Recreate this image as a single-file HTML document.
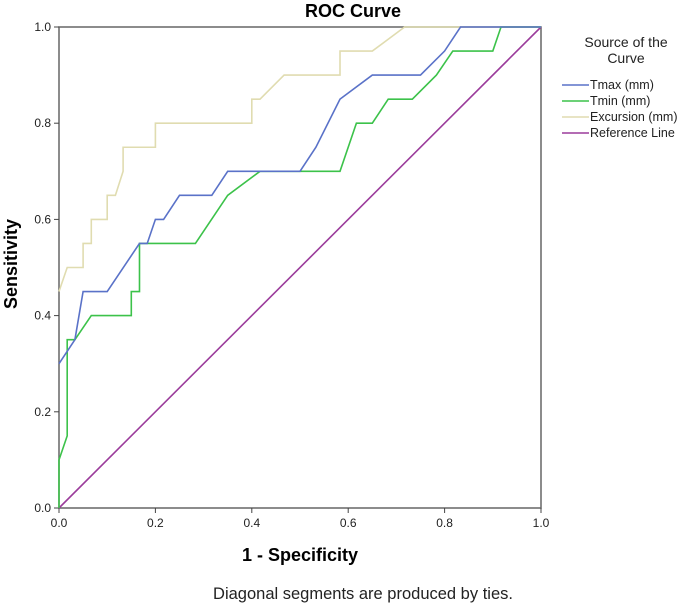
<!DOCTYPE html>
<html><head><meta charset="utf-8"><style>
body{margin:0;background:#fff;width:685px;height:605px;overflow:hidden}
text{font-family:"Liberation Sans",sans-serif}
</style></head><body>
<svg id="c" width="685" height="605" xmlns="http://www.w3.org/2000/svg">
<text x="305" y="17" font-size="18" font-weight="bold">ROC Curve</text>
<g id="plot"></g>
<text x="300" y="561" text-anchor="middle" font-size="18" font-weight="bold">1 - Specificity</text>
<text transform="translate(17,264) rotate(-90)" text-anchor="middle" font-size="18" font-weight="bold">Sensitivity</text>
<text x="363" y="599" text-anchor="middle" font-size="16.5" fill="#222">Diagonal segments are produced by ties.</text>
<g>
<text x="626" y="47" text-anchor="middle" font-size="14" fill="#222">Source of the</text>
<text x="626" y="63" text-anchor="middle" font-size="14" fill="#222">Curve</text>
<g id="leg"></g>
</g>
</svg>
<script>
const seriesNames=["Tmax (mm)","Tmin (mm)","Excursion (mm)","Reference Line"];
const seriesColors=["#5a72c8","#3cc24a","#e0dcb0","#9b3c9b"];
const tmaxX=[0,0.033,0.05,0.1,0.167,0.183,0.2,0.217,0.25,0.317,0.35,0.5,0.533,0.583,0.65,0.75,0.8,0.833,1];
const tmaxY=[0.3,0.35,0.45,0.45,0.55,0.55,0.6,0.6,0.65,0.65,0.7,0.7,0.75,0.85,0.9,0.9,0.95,1,1];
const tminX=[0,0,0.017,0.017,0.033,0.067,0.15,0.15,0.167,0.167,0.283,0.35,0.417,0.583,0.617,0.65,0.683,0.733,0.783,0.817,0.9,0.917,1];
const tminY=[0,0.1,0.15,0.35,0.35,0.4,0.4,0.45,0.45,0.55,0.55,0.65,0.7,0.7,0.8,0.8,0.85,0.85,0.9,0.95,0.95,1,1];
const excX=[0,0.017,0.05,0.05,0.067,0.067,0.1,0.1,0.117,0.133,0.133,0.2,0.2,0.4,0.4,0.417,0.467,0.583,0.583,0.65,0.717,1];
const excY=[0.45,0.5,0.5,0.55,0.55,0.6,0.6,0.65,0.65,0.7,0.75,0.75,0.8,0.8,0.85,0.85,0.9,0.9,0.95,0.95,1,1];
const refX=[0,1];
const refY=[0,1];
const ticks=[0,0.2,0.4,0.6,0.8,1.0];
const tickLabels=["0.0","0.2","0.4","0.6","0.8","1.0"];
const X0=59,X1=541,Y0=508,Y1=27;
const sx=v=>X0+v*(X1-X0), sy=v=>Y0-v*(Y0-Y1);
const NS="http://www.w3.org/2000/svg";
const plot=document.getElementById('plot');
function mk(t,a,p){const e=document.createElementNS(NS,t);for(const k in a)e.setAttribute(k,a[k]);(p||plot).appendChild(e);return e;}
const frame=mk('rect',{x:X0,y:Y1,width:X1-X0,height:Y0-Y1,fill:'#fff',stroke:'#666','stroke-width':1.5});


ticks.forEach((t,i)=>{
 const a=mk('line',{x1:sx(t),x2:sx(t),y1:Y0,y2:Y0+5,stroke:'#444','stroke-width':1});
 
 
 const b=mk('line',{x1:X0-5,x2:X0,y1:sy(t),y2:sy(t),stroke:'#444','stroke-width':1});
 
 
 const tx=mk('text',{x:sx(t),y:Y0+19,'text-anchor':'middle','font-size':12,fill:'#222'});tx.textContent=tickLabels[i];
 
 
 const ty=mk('text',{x:X0-8,y:sy(t)+4,'text-anchor':'end','font-size':12,fill:'#222'});ty.textContent=tickLabels[i];
 
 
});
const data=[[tmaxX,tmaxY],[tminX,tminY],[excX,excY],[refX,refY]];
const names=['tmax-curve','tmin-curve','excursion-curve','reference-line'];
[3,2,1,0].forEach(i=>{
 const [xs,ys]=data[i];
 const p=mk('polyline',{points:xs.map((x,j)=>sx(x)+','+sy(ys[j])).join(' '),fill:'none',stroke:seriesColors[i],'stroke-width':1.6});
 
 
});
const leg=document.getElementById('leg');
const rows=[85,101,117,133];
seriesNames.forEach((n,i)=>{
 const l=mk('line',{x1:562,x2:589,y1:rows[i],y2:rows[i],stroke:seriesColors[i],'stroke-width':1.6},leg);
 
 
 const t=mk('text',{x:590,y:rows[i]+4,'font-size':12.5,fill:'#222'},leg);t.textContent=n;
 
 
});
</script>
</body></html>
